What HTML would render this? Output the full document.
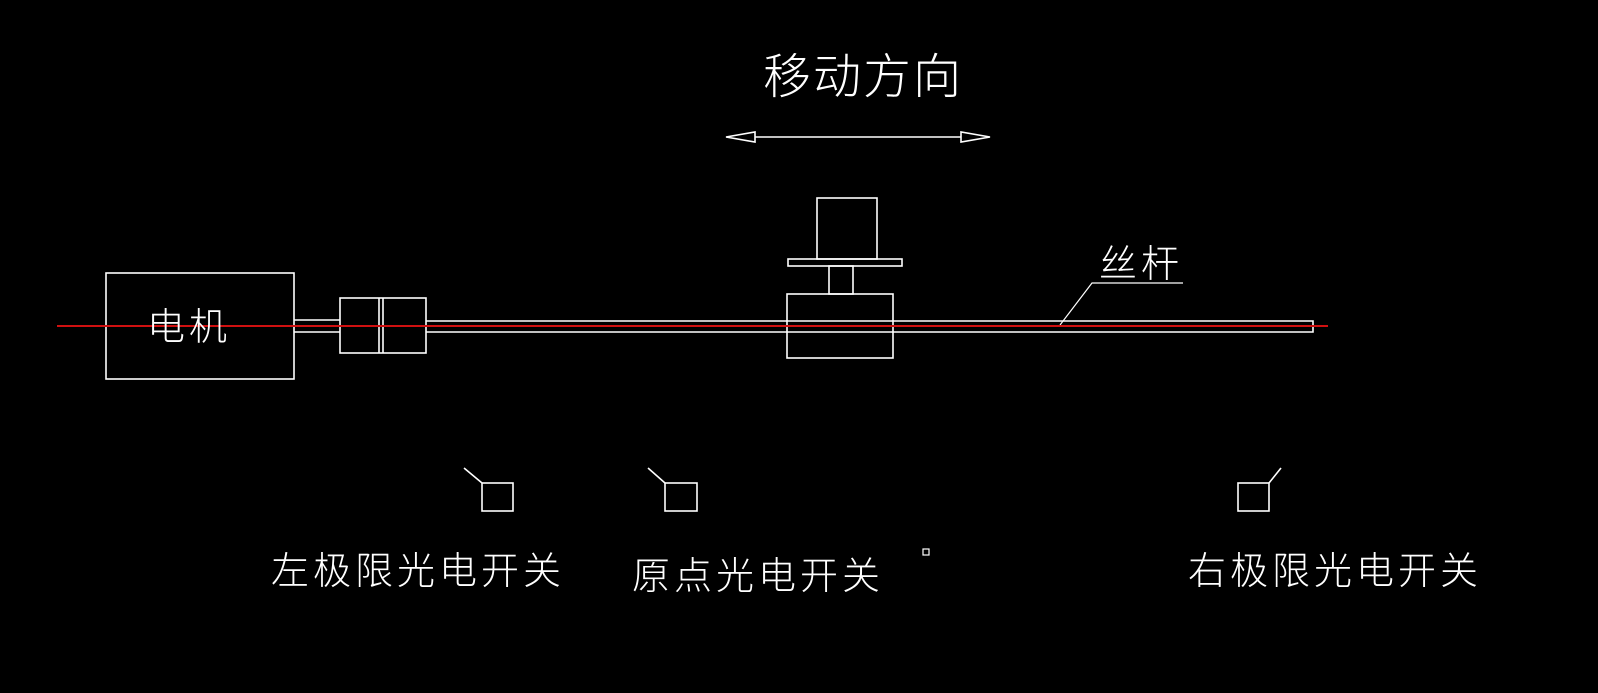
<!DOCTYPE html>
<html><head><meta charset="utf-8"><style>
html,body{margin:0;padding:0;background:#000;}
svg{display:block}
text{font-family:"Liberation Sans","Noto Sans CJK SC",sans-serif;fill:#fff;font-weight:300;}
</style></head><body>
<svg width="1598" height="693" viewBox="0 0 1598 693" xmlns="http://www.w3.org/2000/svg">
<rect width="1598" height="693" fill="#000"/>
<g fill="none" stroke="#fff" stroke-width="1.6">
<rect x="106" y="273" width="188" height="106"/>
<line x1="294" y1="320" x2="340" y2="320"/>
<line x1="294" y1="332" x2="340" y2="332"/>
<rect x="340" y="298" width="86" height="55"/>
<line x1="379" y1="298" x2="379" y2="353"/>
<line x1="383" y1="298" x2="383" y2="353"/>
<polyline points="426,321 1313,321 1313,332 426,332"/>
<rect x="787" y="294" width="106" height="64"/>
<rect x="829" y="266" width="24" height="28"/>
<rect x="788" y="259" width="114" height="7"/>
<rect x="817" y="198" width="60" height="61"/>
<line x1="755" y1="137" x2="961" y2="137"/>
<polygon points="726,137 755,132 755,142"/>
<polygon points="990,137 961,132 961,142"/>
<polyline points="1060,325 1092,283 1183,283" stroke-width="1.2"/>
<rect x="482" y="483" width="31" height="28"/>
<line x1="464" y1="468" x2="482" y2="483"/>
<rect x="665" y="483" width="32" height="28"/>
<line x1="648" y1="468" x2="665" y2="483"/>
<rect x="1238" y="483" width="31" height="28"/>
<line x1="1281" y1="468" x2="1269" y2="483"/>
<rect x="923" y="549" width="6" height="6" stroke-width="1.2"/>
</g>
<line x1="57" y1="326" x2="1328" y2="326" stroke="#d01010" stroke-width="2"/>
<text x="147" y="340" font-size="38" letter-spacing="4">电机</text>
<text x="763" y="93" font-size="48" letter-spacing="2">移动方向</text>
<text x="1099" y="277" font-size="38" letter-spacing="4">丝杆</text>
<text x="271" y="584" font-size="38" letter-spacing="4">左极限光电开关</text>
<text x="632" y="589" font-size="38" letter-spacing="4">原点光电开关</text>
<text x="1188" y="584" font-size="38" letter-spacing="4">右极限光电开关</text>
</svg>
</body></html>
